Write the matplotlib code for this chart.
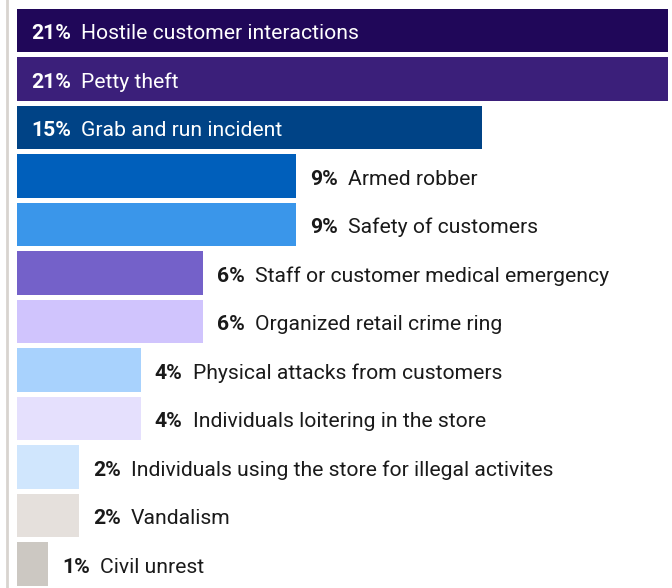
import matplotlib
matplotlib.use("Agg")
import matplotlib.pyplot as plt

plt.rcParams['font.family'] = ['Roboto', 'DejaVu Sans']

labels = ["Hostile customer interactions", "Petty theft", "Grab and run incident",
          "Armed robber", "Safety of customers", "Staff or customer medical emergency",
          "Organized retail crime ring", "Physical attacks from customers",
          "Individuals loitering in the store", "Individuals using the store for illegal activites",
          "Vandalism", "Civil unrest"]
values = [21, 21, 15, 9, 9, 6, 6, 4, 4, 2, 2, 1]
colors = ["#200759", "#3b1f7a", "#004386", "#005fbb", "#3a96ea", "#7461c9",
          "#d0c4fd", "#a8d2fd", "#e5e0fd", "#d0e6fd", "#e5e0dc", "#ccc8c2"]

fig = plt.figure(figsize=(6.72, 5.88), dpi=100)
ax = fig.add_axes([0, 0, 1, 1])

y = list(range(len(values)))
ax.barh(y, values, height=0.9, color=colors)

ax.set_xlim(-17 / 31, (672 - 17) / 31)
ax.set_ylim((588 - 30.5) / 48.5, -30.5 / 48.5)
ax.axvline(-0.31, color="#d8d4cf", lw=2)
ax.axis("off")

fs = 15.2
for i, (v, lab) in enumerate(zip(values, labels)):
    inside = v >= 10
    col = "white" if inside else "#1a1a1a"
    x0 = 0 if inside else v
    t1 = ax.annotate(f"{v}%", xy=(x0, i), xytext=(10, -2.5), textcoords="offset points",
                     va="center", ha="left", fontsize=fs, fontweight="bold", color=col)
    ax.annotate(lab, xy=(1, 0), xycoords=t1, xytext=(7.5, 0), textcoords="offset points",
                va="bottom", ha="left", fontsize=fs, color=col)

fig.savefig("out.png", dpi=100)
